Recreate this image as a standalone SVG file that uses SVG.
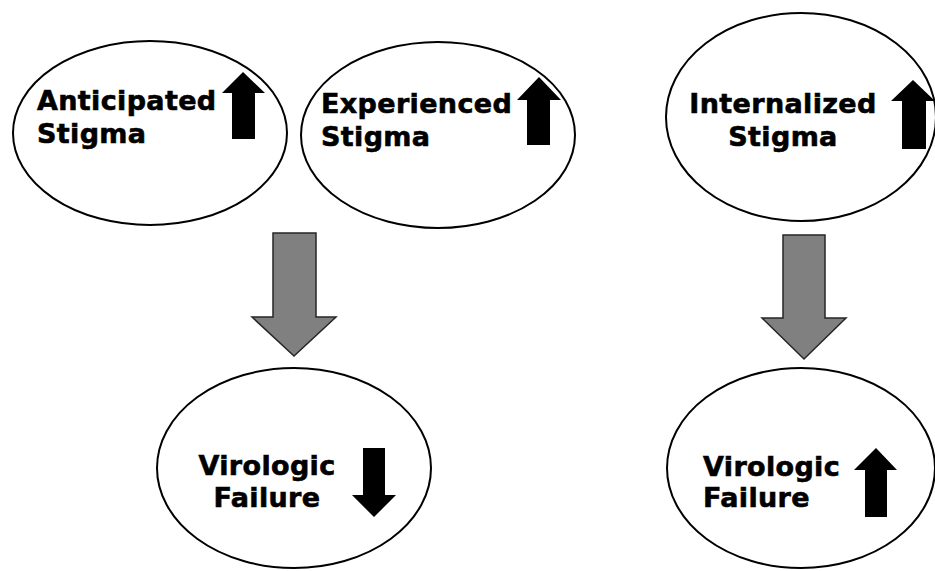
<svg xmlns="http://www.w3.org/2000/svg" width="935" height="571" viewBox="0 0 935 571">
<style>
.node ellipse{fill:#fff;stroke:#000;stroke-width:2}
.lbl{font-family:"DejaVu Sans","Verdana",sans-serif;font-weight:bold;font-size:27px;letter-spacing:0.35px;fill:#000;stroke:#000;stroke-width:0.6}
.ind{fill:#000;stroke:none}
.conn path{fill:#808080;stroke:#262626;stroke-width:1.5;stroke-linejoin:miter}
</style>
<rect width="935" height="571" fill="#fff"/>
<g id="anticipated" class="node">
<ellipse cx="150" cy="133" rx="137" ry="92"/>
<text class="lbl" x="37" y="110">Anticipated</text>
<text class="lbl" x="37" y="143">Stigma</text>
<path class="ind" d="M243,72 L265,93 L255,93 L255,139 L232,139 L232,93 L222,93 Z"/>
</g>
<g id="experienced" class="node">
<ellipse cx="438" cy="135" rx="137" ry="93"/>
<text class="lbl" x="321" y="113">Experienced</text>
<text class="lbl" x="321" y="146">Stigma</text>
<path class="ind" d="M539,77 L561,100 L550,100 L550,145 L527,145 L527,100 L517,100 Z"/>
</g>
<g id="internalized" class="node">
<ellipse cx="801" cy="117" rx="135" ry="104"/>
<text class="lbl" x="783" y="113" text-anchor="middle">Internalized</text>
<text class="lbl" x="783" y="146" text-anchor="middle">Stigma</text>
<path class="ind" d="M913,80 L935,101 L926,101 L926,149 L902,149 L902,101 L891,101 Z"/>
</g>
<g id="virologic-left" class="node">
<ellipse cx="294" cy="468" rx="137" ry="100"/>
<text class="lbl" x="267" y="475" text-anchor="middle">Virologic</text>
<text class="lbl" x="267" y="507" text-anchor="middle">Failure</text>
<path class="ind" d="M374,517 L396,495 L385,495 L385,448 L363,448 L363,495 L352,495 Z"/>
</g>
<g id="virologic-right" class="node">
<ellipse cx="801" cy="468" rx="134" ry="100"/>
<text class="lbl" x="703" y="476">Virologic</text>
<text class="lbl" x="703" y="507">Failure</text>
<path class="ind" d="M876,448 L897,470 L887,470 L887,517 L865,517 L865,470 L854,470 Z"/>
</g>
<g id="connectors" class="conn">
<path d="M273,233 L316,233 L316,317 L336,317 L294,356 L252,317 L273,317 Z"/>
<path d="M783,235 L825,235 L825,318 L846,318 L804,359 L762,318 L783,318 Z"/>
</g>
</svg>
